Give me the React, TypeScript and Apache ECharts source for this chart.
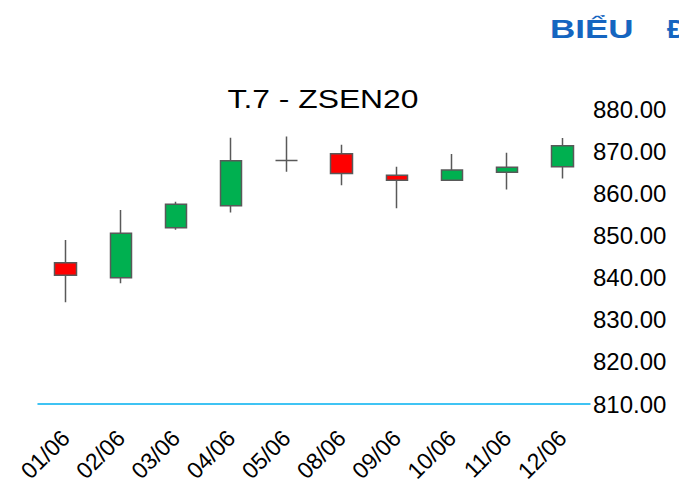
import React, { useEffect, useRef } from "react";
import * as echarts from "echarts";

const categories = ["01/06", "02/06", "03/06", "04/06", "05/06", "08/06", "09/06", "10/06", "11/06", "12/06"];
const openValues = [843.6, 840.0, 851.9, 857.1, 867.9, 869.5, 864.4, 863.2, 865.1, 866.4];
const closeValues = [840.6, 850.6, 857.5, 867.8, 867.9, 864.8, 863.2, 865.6, 866.3, 871.4];
const lowValues = [834.2, 838.7, 851.4, 855.5, 865.2, 862.0, 856.5, 863.2, 861.0, 863.6];
const highValues = [849.0, 856.1, 858.1, 873.3, 873.6, 871.6, 866.4, 869.4, 869.7, 873.2];
const yMin = 810;
const yMax = 880;
const yStep = 10;
const chartTitle = "T.7 - ZSEN20";
const headerWord1 = "BIỂU";
const headerWord2 = "ĐỒ";

export default function App() {
  const ref = useRef<HTMLDivElement>(null);
  useEffect(() => {
    if (!ref.current) return;
    const chart = echarts.init(ref.current, undefined, { renderer: "svg" });
    const data = categories.map((_, i) => [openValues[i], closeValues[i], lowValues[i], highValues[i]]);
    chart.setOption({
      animation: false,
      backgroundColor: "#ffffff",
      textStyle: { fontFamily: "Liberation Sans" },
      grid: { left: 38, right: 89, top: 109.5, bottom: 79, containLabel: false, outerBoundsMode: "none" },
      graphic: [
        {
          type: "text",
          x: 323,
          y: 99,
          scaleX: 1.2,
          style: {
            text: chartTitle,
            x: 0,
            y: 0,
            textAlign: "center",
            verticalAlign: "middle",
            font: "26.5px 'Liberation Sans'",
            fill: "#000000",
          },
        },
        {
          type: "text",
          x: 550,
          y: 29,
          scaleX: 1.4,
          style: {
            text: headerWord1,
            x: 0,
            y: 0,
            textAlign: "left",
            verticalAlign: "middle",
            font: "bold 25px 'Liberation Sans'",
            fill: "#1565c0",
          },
        },
        {
          type: "text",
          x: 667,
          y: 29,
          scaleX: 1.1,
          style: {
            text: headerWord2,
            x: 0,
            y: 0,
            textAlign: "left",
            verticalAlign: "middle",
            font: "bold 25px 'Liberation Sans'",
            fill: "#1565c0",
          },
        },
      ],
      xAxis: {
        type: "category",
        data: categories,
        boundaryGap: true,
        axisLine: { show: true, lineStyle: { color: "#00b0f0", width: 1.5 } },
        axisTick: { show: false },
        splitLine: { show: false },
        axisLabel: {
          rotate: 45,
          margin: 30,
          fontSize: 23,
          color: "#000000",
          fontFamily: "Liberation Sans",
          interval: 0,
        },
      },
      yAxis: {
        type: "value",
        position: "right",
        min: yMin,
        max: yMax,
        interval: yStep,
        axisLine: { show: false },
        axisTick: { show: false },
        splitLine: { show: false },
        axisLabel: {
          margin: 3,
          fontSize: 24,
          color: "#000000",
          fontFamily: "Liberation Sans",
          formatter: (v: number) => v.toFixed(2),
        },
      },
      series: [
        {
          type: "candlestick",
          data,
          barWidth: 22,
          itemStyle: {
            color: "#00b050",
            color0: "#ff0000",
            borderColor: "#595959",
            borderColor0: "#595959",
            borderColorDoji: "#595959",
            borderWidth: 1.5,
          },
        },
      ],
    });
    return () => chart.dispose();
  }, []);
  return (
    <div
      ref={ref}
      style={{ position: "absolute", left: 0, top: 0, width: 679, height: 483 }}
    />
  );
}
